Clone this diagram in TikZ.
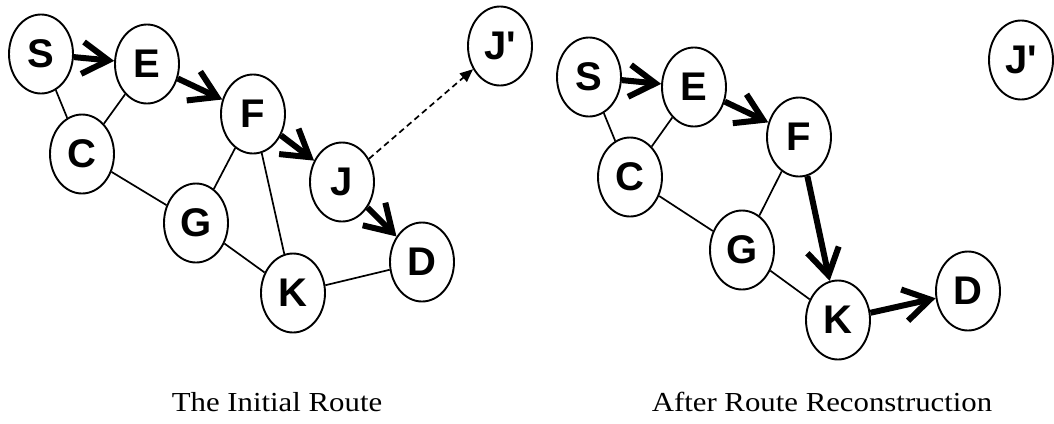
\documentclass[tikz,border=0pt]{standalone}
\usepackage{fontspec}
\setmainfont{Liberation Serif}
\newfontfamily\nodefont{Liberation Sans}
\newfontfamily\labelfont[FakeStretch=1.12]{Liberation Serif}
\usetikzlibrary{shapes.geometric,arrows.meta}
\begin{document}
\begin{tikzpicture}[x=1pt,y=-1pt,
  vtx/.style={draw, fill=white, line width=1.9pt, ellipse, minimum width=64pt, minimum height=79pt, inner sep=0pt,
    font=\nodefont\bfseries\fontsize{40}{40}\selectfont},
  plain/.style={line width=1.7pt},
  route/.style={line width=6pt, -{Straight Barb[length=26pt,width=32pt]}},
  moved/.style={line width=1.7pt, dash pattern=on 6pt off 4pt, -{Triangle[length=13pt,width=11pt]}},
  caption/.style={font=\labelfont\fontsize{27.5}{30}\selectfont, anchor=base, inner sep=0pt}]
\useasboundingbox (0,0) rectangle (1054,423);

% ---- left graph: the initial route
\node[vtx] (S1) at (41,54) {S};
\node[vtx] (E1) at (147,64) {E};
\node[vtx] (F1) at (253,114) {F};
\node[vtx] (C1) at (82,154) {C};
\node[vtx] (J1) at (342,182) {J};
\node[vtx] (G1) at (196,223) {G};
\node[vtx] (D1) at (422,262) {D};
\node[vtx] (K1) at (293,293) {K};
\node[vtx] (Jp1) at (500,46) {J'};

\draw[plain] (S1) -- (C1);
\draw[plain] (E1) -- (C1);
\draw[plain] (C1) -- (G1);
\draw[plain] (F1) -- (G1);
\draw[plain] (F1) -- (K1);
\draw[plain] (G1) -- (K1);
\draw[plain] (K1) -- (D1);
\draw[route] (S1) -- (E1);
\draw[route] (E1) -- (F1);
\draw[route] (F1) -- (J1);
\draw[route] (J1) -- (D1);
\draw[moved] (J1) -- (Jp1);

% ---- right graph: after route reconstruction
\node[vtx] (S2) at (589,77) {S};
\node[vtx] (E2) at (694,87) {E};
\node[vtx] (F2) at (799,137) {F};
\node[vtx] (C2) at (630,177) {C};
\node[vtx] (G2) at (742,250) {G};
\node[vtx] (K2) at (838,320) {K};
\node[vtx] (D2) at (968,291) {D};
\node[vtx] (Jp2) at (1021,60) {J'};

\draw[plain] (S2) -- (C2);
\draw[plain] (E2) -- (C2);
\draw[plain] (C2) -- (G2);
\draw[plain] (F2) -- (G2);
\draw[plain] (G2) -- (K2);
\draw[route] (S2) -- (E2);
\draw[route] (E2) -- (F2);
\draw[route] (F2) -- (K2);
\draw[route] (K2) -- (D2);

% ---- captions
\node[caption] (cap1) at (277,411) {The Initial Route};
\node[caption] (cap2) at (822,411) {After Route Reconstruction};
\end{tikzpicture}
\end{document}
